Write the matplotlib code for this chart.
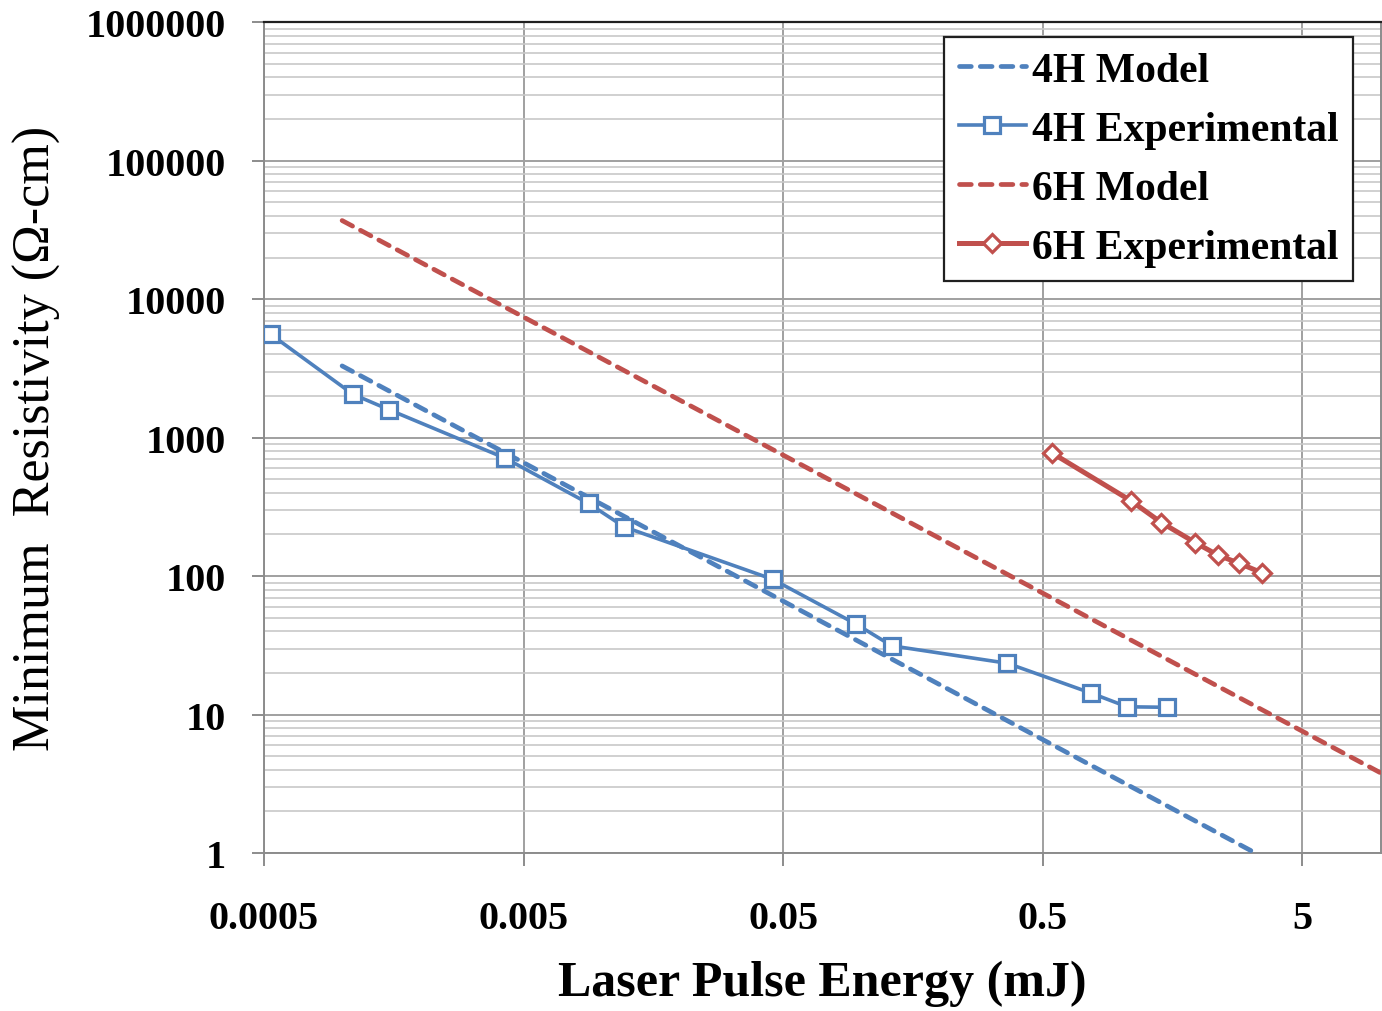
import numpy as np
import matplotlib
matplotlib.use('Agg')
import matplotlib.pyplot as plt
from matplotlib.ticker import FixedLocator, NullLocator, NullFormatter

plt.rcParams['font.family'] = ['Liberation Serif', 'DejaVu Serif']

# 4H / 6H silicon carbide, resistivity vs laser pulse energy
e_4h_model = [0.001, 3.3]
r_4h_model = [3300, 1.0]

e_4h_exp = [0.00053, 0.0011, 0.00152, 0.00425, 0.0089, 0.0122, 0.0455,
            0.0956, 0.131, 0.365, 0.768, 1.055, 1.5]
r_4h_exp = [5590, 2060, 1590, 711, 335, 227, 95, 45, 31.4, 23.5, 14.3, 11.4, 11.3]

e_6h_model = [0.001, 10]
r_6h_model = [37000, 3.8]

e_6h_exp = [0.544, 1.093, 1.43, 1.93, 2.36, 2.86, 3.48]
r_6h_exp = [773, 350, 244, 175, 142, 123.6, 106]

x_ticks = [0.0005, 0.005, 0.05, 0.5, 5]
x_labels = ['0.0005', '0.005', '0.05', '0.5', '5']
y_ticks = [1, 10, 100, 1000, 10000, 100000, 1000000]
y_labels = ['1', '10', '100', '1000', '10000', '100000', '1000000']

blue = '#4F81BD'
red = '#C0504D'

fig = plt.figure(figsize=(13.82, 10.12), dpi=100)
ax = fig.add_axes([0.191, 0.156, 0.808, 0.821])

ax.plot(e_4h_model, r_4h_model, color=blue, lw=3.4, ls=(0, (2.5, 1.9)),
        dash_capstyle='round', label='4H Model', zorder=3)
ax.plot(e_4h_exp, r_4h_exp, color=blue, lw=2.6, marker='s', ms=11,
        mfc='white', mec=blue, mew=2.3, label='4H Experimental', zorder=4)
ax.plot(e_6h_model, r_6h_model, color=red, lw=3.4, ls=(0, (2.5, 1.9)),
        dash_capstyle='round', label='6H Model', zorder=3)
ax.plot(e_6h_exp, r_6h_exp, color=red, lw=3.6, marker='D', ms=9,
        mfc='white', mec=red, mew=2.3, label='6H Experimental', zorder=4)

ax.set_xscale('log')
ax.set_yscale('log')
ax.set_xlim(0.0005, 10)
ax.set_ylim(1, 1000000)

ax.xaxis.set_major_locator(FixedLocator(x_ticks))
ax.set_xticklabels(x_labels)
ax.xaxis.set_minor_locator(NullLocator())
ax.xaxis.set_minor_formatter(NullFormatter())
ax.yaxis.set_major_locator(FixedLocator(y_ticks))
ax.set_yticklabels(y_labels)
minor_y = [m * 10.0 ** k for k in range(0, 6) for m in range(2, 10)]
ax.yaxis.set_minor_locator(FixedLocator(minor_y))
ax.yaxis.set_minor_formatter(NullFormatter())

ax.grid(which='major', axis='both', color='#A0A0A0', lw=1.4)
ax.grid(which='minor', axis='y', color='#C8C8C8', lw=1.2)
ax.set_axisbelow(True)

for s in ['left', 'bottom', 'right']:
    ax.spines[s].set_color('#8C8C8C')
    ax.spines[s].set_linewidth(1.4)
ax.spines['top'].set_color('#202020')
ax.spines['top'].set_linewidth(1.6)

ax.tick_params(axis='both', which='major', direction='out', length=9,
               width=1.4, color='#8C8C8C', labelsize=29)
ax.tick_params(axis='x', which='major', pad=25)
ax.tick_params(axis='y', which='major', pad=18)
ax.tick_params(which='minor', length=0)
for lab in ax.get_xticklabels() + ax.get_yticklabels():
    lab.set_fontweight('bold')

ax.set_xlabel('Laser Pulse Energy (mJ)', fontsize=36, fontweight='bold',
              labelpad=16)
ax.set_ylabel('Minimum  Resistivity (Ω-cm)', fontsize=37.5, labelpad=18)

leg = ax.legend(loc='upper right', bbox_to_anchor=(0.979, 0.9625),
                bbox_transform=fig.transFigure, fancybox=False,
                edgecolor='#202020', framealpha=1,
                prop={'size': 30, 'weight': 'bold'},
                handlelength=1.6, handletextpad=0.15, labelspacing=0.5,
                borderpad=0.35, borderaxespad=0)
leg.get_frame().set_linewidth(1.6)

fig.savefig('out.png', dpi=100, facecolor='white')
